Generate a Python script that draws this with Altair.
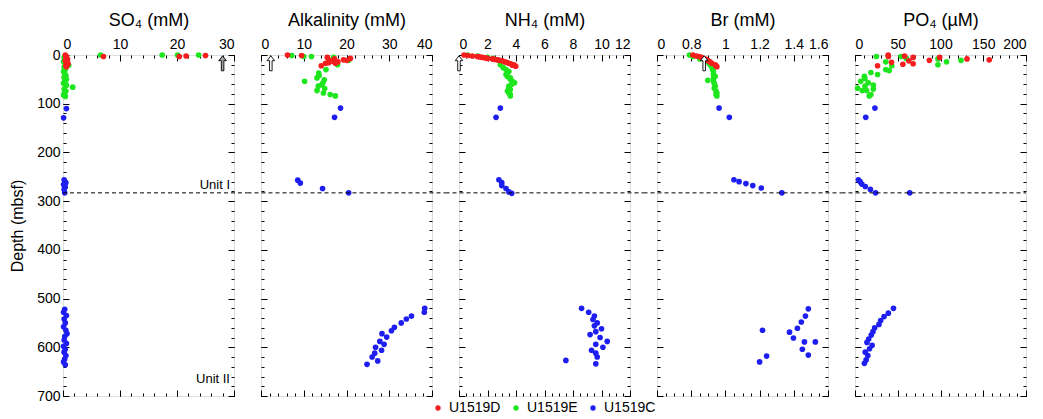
import altair as alt
import pandas as pd

# ---------------- data (depth in mbsf, value) ----------------
sites = ["U1519D", "U1519E", "U1519C"]
site_colors = ["#f41e1e", "#1ee61e", "#1e1ef0"]

so4_D = [(0, 0.4), (3, 0.6), (6, 0.5), (9, 0.8), (12, 0.4), (15, 0.7), (18, 0.9), (21, 0.5), (24, 0.6),
         (3, 7.1), (3, 20.4), (2, 21.6), (1, 25.0)]
so4_E = [(0, 6.6), (0, 17.4), (0, 20.1), (0, 23.8), (5, 0.2), (10, 0.3), (14, 0.1), (18, 0.5), (21, 1.0),
         (25, 0.2), (30, 0.4), (34, 0.1), (38, 0.3), (42, 0.5), (46, 0.2), (50, 0.6), (54, 0.3), (58, 0.1),
         (62, 0.6), (66, 1.7), (70, 0.2), (74, 0.5), (78, 0.3), (82, 0.1), (85, 0.4)]
so4_C = [(110, 0.6), (129, 0.1), (256, 0.2), (262, 0.5), (266, 0.1), (271, 0.4), (276, 0.2), (283, 0.3),
         (522, 0.3), (528, 0.1), (535, 0.6), (542, 0.2), (550, 0.4), (558, 0.1), (565, 0.5), (572, 0.7),
         (578, 0.3), (585, 0.2), (592, 0.6), (598, 0.1), (604, 0.4), (610, 0.2), (617, 0.5), (624, 0.3),
         (630, 0.1), (636, 0.4)]

alk_D = [(0, 6.2), (1, 9.5), (5, 15.5), (8, 17.2), (10, 19.3), (7, 20.9), (11, 20.1), (13, 16.6), (17, 15.1),
         (22, 14.1), (17, 17.4), (10, 15.9), (14, 18.0), (16, 15.8)]
alk_E = [(1, 7.2), (3, 10.0), (3, 11.8), (5, 17.0), (11, 20.5), (20, 17.9), (30, 15.2), (37, 13.5), (42, 13.6),
         (47, 13.1), (54, 10.2), (57, 14.5), (51, 14.8), (64, 13.4), (73, 13.1), (69, 14.9), (78, 14.6),
         (81, 16.2), (84, 17.4), (61, 14.2)]
alk_C = [(109, 18.6), (128, 17.2), (257, 8.6), (263, 9.2), (274, 14.4), (283, 20.5), (520, 38.3), (528, 38.2),
         (536, 35.2), (542, 34.0), (550, 32.8), (559, 31.2), (566, 30.5), (572, 28.3), (579, 29.4), (588, 27.8),
         (594, 28.8), (600, 26.8), (606, 28.2), (612, 26.6), (620, 26.0), (628, 27.3), (635, 24.8)]

nh4_D = [(0, 0.35), (1, 0.63), (2, 0.94), (3, 1.29), (5, 1.64), (7, 2.0), (8, 2.34), (10, 2.69), (12, 3.04),
         (15, 3.35), (18, 3.63), (20, 3.86), (23, 3.98), (4, 1.45), (6, 1.85), (9, 2.5), (11, 2.85), (14, 3.2),
         (17, 3.5), (21, 3.75)]
nh4_E = [(0, 0.6), (2, 1.3), (5, 2.0), (7, 2.4), (10, 2.7), (20, 2.9), (26, 3.1), (30, 3.3), (34, 3.5),
         (40, 3.3), (44, 3.4), (47, 3.6), (50, 3.6), (54, 3.75), (57, 3.9), (60, 3.7), (64, 3.5), (68, 3.5),
         (71, 3.6), (74, 3.4), (78, 3.5), (81, 3.6), (84, 3.6)]
nh4_C = [(109, 2.9), (128, 2.6), (256, 2.8), (262, 3.0), (268, 3.0), (274, 3.3), (281, 3.5), (284, 3.7),
         (520, 8.6), (528, 9.1), (536, 9.5), (543, 9.4), (550, 9.7), (556, 9.5), (562, 10.0), (568, 9.6),
         (574, 9.2), (580, 9.9), (588, 10.4), (594, 9.6), (600, 10.1), (606, 9.3), (612, 9.6), (620, 9.7),
         (627, 7.5), (634, 9.6)]

br_D = [(0, 0.81), (2, 0.83), (5, 0.86), (8, 0.88), (12, 0.90), (17, 0.92), (20, 0.94), (24, 0.95),
        (3, 0.845), (10, 0.89), (14, 0.91), (22, 0.945)]
br_E = [(0, 0.79), (3, 0.81), (8, 0.85), (14, 0.89), (20, 0.91), (24, 0.92), (30, 0.925), (34, 0.93),
        (40, 0.93), (44, 0.94), (48, 0.93), (52, 0.897), (54, 0.93), (58, 0.935), (64, 0.94), (68, 0.935),
        (74, 0.945), (78, 0.95), (84, 0.95), (81, 0.945)]
br_C = [(109, 0.963), (128, 1.023), (256, 1.05), (260, 1.08), (264, 1.12), (268, 1.16), (273, 1.21),
        (283, 1.33), (521, 1.485), (536, 1.468), (548, 1.444), (561, 1.421), (569, 1.375), (581, 1.398),
        (589, 1.462), (589, 1.526), (604, 1.45), (616, 1.485), (565, 1.217), (618, 1.241), (630, 1.2)]

po4_D = [(0, 38.8), (3, 39), (2, 58), (5, 68), (5, 99), (8, 131), (10, 157), (11, 87), (15, 42.7), (19, 56),
         (12, 63), (18, 68), (22, 26.4)]
po4_E = [(3, 25), (3, 54), (8, 97), (14, 107), (11, 124), (20, 97), (22, 43), (30, 36), (32, 40), (36, 18.6),
         (40, 26.4), (44, 10.9), (48, 11.6), (54, 6.6), (57, 15.5), (62, 21.4), (68, 3.1), (64, 11.7),
         (73, 13.6), (70, 21.4), (81, 18.6), (84, 16.7), (73, 8.5), (14, 36), (7, 60)]
po4_C = [(109, 23.3), (128, 12.6), (256, 4), (260, 6), (265, 8), (270, 12), (276, 18), (283, 24), (283, 64),
         (520, 45), (530, 39), (537, 34), (545, 30), (553, 28), (560, 23), (568, 21), (575, 19), (583, 16),
         (590, 14), (596, 20), (603, 17), (610, 12), (617, 15), (626, 13), (633, 11)]

panel_titles = ["SO₄ (mM)", "Alkalinity (mM)", "NH₄ (mM)", "Br (mM)", "PO₄ (µM)"]
x_domains = [[0, 30], [0, 40], [0, 12], [0.6, 1.6], [0, 200]]
x_major = [[0, 10, 20, 30], [0, 10, 20, 30, 40], [0, 2, 4, 6, 8, 10, 12],
           [0.6, 0.8, 1.0, 1.2, 1.4, 1.6], [0, 50, 100, 150, 200]]
x_minor = [list(range(0, 31, 2)), list(range(0, 41, 2)), [i * 0.5 for i in range(25)],
           [0.6 + i * 0.05 for i in range(21)], list(range(0, 201, 10))]
br_first_label = "0"

seawater = [28.0, 2.3, 0.0, 0.876, None]   # arrows (seawater values)
arrow_depth = 17

unit_boundary = 283
unit_names = ["Unit I", "Unit II"]
unit_depths = [281, 680]

depth_major = list(range(0, 701, 100))
depth_minor = list(range(0, 701, 20))

panel_data = [
    {"U1519D": so4_D, "U1519E": so4_E, "U1519C": so4_C},
    {"U1519D": alk_D, "U1519E": alk_E, "U1519C": alk_C},
    {"U1519D": nh4_D, "U1519E": nh4_E, "U1519C": nh4_C},
    {"U1519D": br_D, "U1519E": br_E, "U1519C": br_C},
    {"U1519D": po4_D, "U1519E": po4_E, "U1519C": po4_C},
]

# ---------------- chart ----------------
W, H = 171, 341
GAP = 27
FONT = "Liberation Sans"
ARROW = "M0,-1L0.5,-0.35L0.17,-0.35L0.17,1L-0.17,1L-0.17,-0.35L-0.5,-0.35Z"

y_scale = alt.Scale(domain=[0, 700], reverse=True, nice=False, zero=False)


def ax(orient, vals, size, labels=False, title=None, **extra):
    return alt.Axis(orient=orient, values=vals, tickSize=size, offset=-size, domain=False,
                    labels=labels, grid=False, tickColor="black", tickWidth=1, title=title,
                    labelFont=FONT, labelColor="black", titleFont=FONT, titleColor="black",
                    titleFontWeight="normal", **extra)


panels = []
for i in range(5):
    rows = []
    for s in ["U1519C", "U1519E", "U1519D"]:
        for d, v in panel_data[i][s]:
            rows.append({"site": s, "depth": d, "value": v})
    df = pd.DataFrame(rows)
    xs = alt.Scale(domain=x_domains[i], nice=False, zero=False)

    top_extra = dict(labelFontSize=14, labelPadding=4, titleFontSize=18, titlePadding=8)
    if i == 3:
        top_extra["format"] = "~g"
        top_extra["labelExpr"] = "datum.value < 0.7 ? '%s' : datum.label" % br_first_label
    top_major = ax("top", x_major[i], 6, labels=True, title=panel_titles[i], **top_extra)
    if i == 0:
        left_major = ax("left", depth_major, 6, labels=True, title="Depth (mbsf)",
                        labelFontSize=14, labelPadding=3, titleFontSize=16, titlePadding=11)
    else:
        left_major = ax("left", depth_major, 6)

    pts = alt.Chart(df).mark_circle(size=32, opacity=1).encode(
        x=alt.X("value:Q", scale=xs, axis=top_major),
        y=alt.Y("depth:Q", scale=y_scale, axis=left_major),
        color=alt.Color("site:N", scale=alt.Scale(domain=sites, range=site_colors),
                        legend=alt.Legend(orient="none", legendX=368, legendY=346, direction="horizontal",
                                          title=None, symbolType="circle", symbolSize=28,
                                          symbolStrokeWidth=0, labelFont=FONT, labelFontSize=14,
                                          labelColor="black", columnPadding=8, labelOffset=4)),
    )
    b2 = alt.Chart(df).mark_point(opacity=0).encode(
        x=alt.X("value:Q", scale=xs, axis=ax("bottom", x_major[i], 6)),
        y=alt.Y("depth:Q", scale=y_scale, axis=ax("right", depth_major, 6)),
    )
    b3 = alt.Chart(df).mark_point(opacity=0).encode(
        x=alt.X("value:Q", scale=xs, axis=ax("top", x_minor[i], 3)),
        y=alt.Y("depth:Q", scale=y_scale, axis=ax("left", depth_minor, 3)),
    )
    b4 = alt.Chart(df).mark_point(opacity=0).encode(
        x=alt.X("value:Q", scale=xs, axis=ax("bottom", x_minor[i], 3)),
        y=alt.Y("depth:Q", scale=y_scale, axis=ax("right", depth_minor, 3)),
    )
    x0 = 0 if i == 0 else -GAP / 2
    x1 = W if i == 4 else W + GAP / 2
    rule = alt.Chart(pd.DataFrame({"depth": [unit_boundary]})).mark_rule(
        color="black", strokeWidth=1, strokeDash=[4, 3]).encode(
        y=alt.Y("depth:Q", scale=y_scale, axis=None), x=alt.value(x0), x2=alt.value(x1))
    layers = [pts, b2, b3, b4, rule]
    if seawater[i] is not None:
        arr = alt.Chart(pd.DataFrame({"value": [seawater[i]], "depth": [arrow_depth]})).mark_point(
            shape=ARROW, size=225, filled=True, fill="#a0a0a0" if i == 0 else "white",
            stroke="black", strokeWidth=0.9, opacity=1).encode(
            x=alt.X("value:Q", scale=xs, axis=None),
            y=alt.Y("depth:Q", scale=y_scale, axis=None))
        layers.append(arr)
    if i == 0:
        txt = alt.Chart(pd.DataFrame({"label": unit_names, "depth": unit_depths})).mark_text(
            align="right", baseline="bottom", font=FONT, fontSize=13, color="black").encode(
            x=alt.value(W - 4), y=alt.Y("depth:Q", scale=y_scale, axis=None), text="label:N")
        layers.append(txt)
    p = alt.layer(*layers).resolve_scale(x="shared", y="shared").resolve_axis(
        x="independent", y="independent").properties(width=W, height=H)
    panels.append(p)

chart = alt.hconcat(*panels, spacing=GAP, bounds="flush").resolve_scale(color="shared").configure_view(
    stroke="black", strokeWidth=1).configure(padding={"left": 1, "top": 2, "right": 2, "bottom": 2})

chart.save("out.html", embed_options={"renderer": "svg", "actions": False})
